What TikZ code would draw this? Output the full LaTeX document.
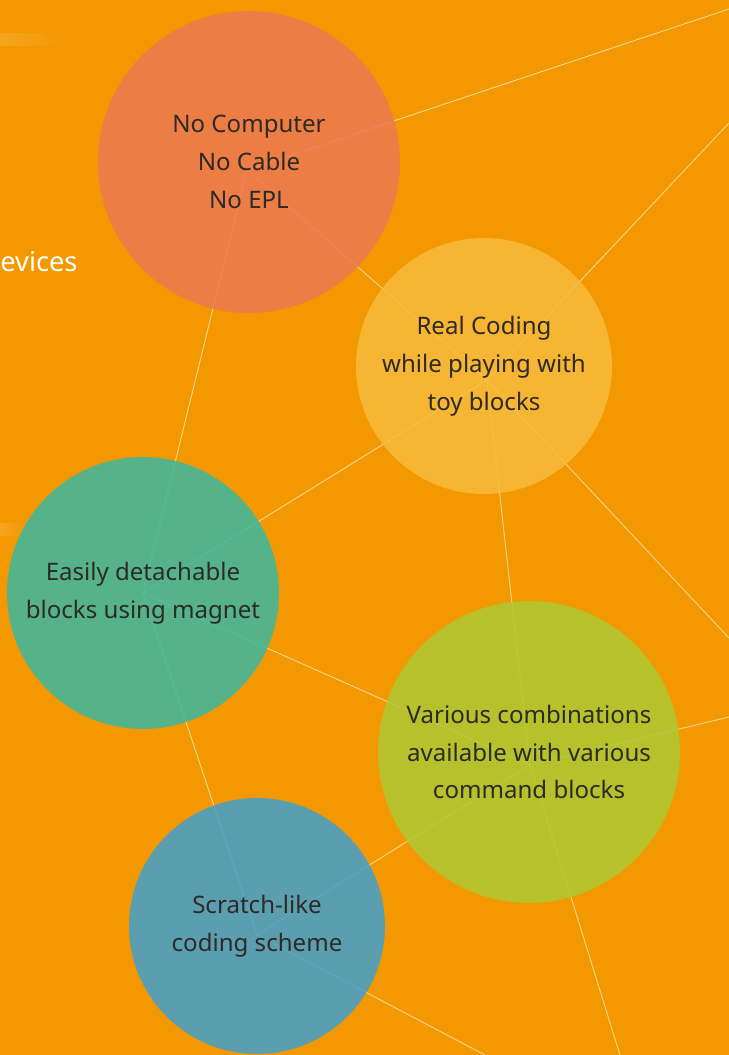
\documentclass[tikz,border=0pt]{standalone}
\usepackage{fontspec}
\setmainfont{Noto Sans}
\begin{document}
\begin{tikzpicture}[x=0.02cm,y=-0.02cm,
  bubble/.style={circle, inner sep=0pt, minimum size=#1, fill opacity=0.85, text opacity=1, align=center, text=ink, font=\fontsize{13.7}{21.5}\selectfont},
  link/.style={draw=linecol, line width=0.55pt}]
\definecolor{bg}{HTML}{F39800}
\definecolor{linecol}{HTML}{F8D28A}
\definecolor{ink}{HTML}{2E2A27}
\useasboundingbox (0,0) rectangle (729,1055);
\fill[bg] (0,0) rectangle (729,1055);
% faint stripes at the left edge
\shade[left color=bg!88!white, right color=bg] (0,33) rectangle (68,45);
\shade[left color=bg!88!white, right color=bg] (0,523) rectangle (27,535);
\node[anchor=west, text=white, inner sep=0pt, font=\fontsize{15.5}{18}\selectfont] (devices) at (0,262) {evices};
% hubs and loose ends
\coordinate (hubA) at (247,170);
\coordinate (hubB) at (487,380);
\coordinate (hubC) at (143,593);
\coordinate (hubD) at (530,765);
\coordinate (hubE) at (257,935);
\coordinate (endA) at (729,9);
\coordinate (endB) at (729,123);
\coordinate (endB2) at (729,638);
\coordinate (endD) at (729,717);
\coordinate (endD2) at (620,1055);
\coordinate (endE) at (485,1055);
\foreach \a/\b in {hubA/endA, hubA/hubB, hubA/hubC, hubB/endB, hubB/endB2, hubB/hubD, hubB/hubC, hubC/hubD, hubC/hubE, hubD/endD, hubD/hubE, hubD/endD2, hubE/endE}
  \draw[link] (\a) -- (\b);
% bubbles
\definecolor{mycolor}{HTML}{EB7951}
\node[bubble=6.04cm, fill=mycolor] (nocomp) at (249,162) {No Computer\\No Cable\\No EPL};
\definecolor{mycolor}{HTML}{F7BB3D}
\node[bubble=5.12cm, fill=mycolor] (realcode) at (484,366) {Real Coding\\while playing with\\toy blocks};
\definecolor{mycolor}{HTML}{3AB7A2}
\node[bubble=5.44cm, fill=mycolor] (magnet) at (143,593) {Easily detachable\\blocks using magnet};
\definecolor{mycolor}{HTML}{ACC933}
\node[bubble=6.04cm, fill=mycolor] (combos) at (529,752) {Various combinations\\available with various\\command blocks};
\definecolor{mycolor}{HTML}{41A0CF}
\node[bubble=5.12cm, fill=mycolor] (scratch) at (257,926) {Scratch-like\\coding scheme};
\end{tikzpicture}
\end{document}
